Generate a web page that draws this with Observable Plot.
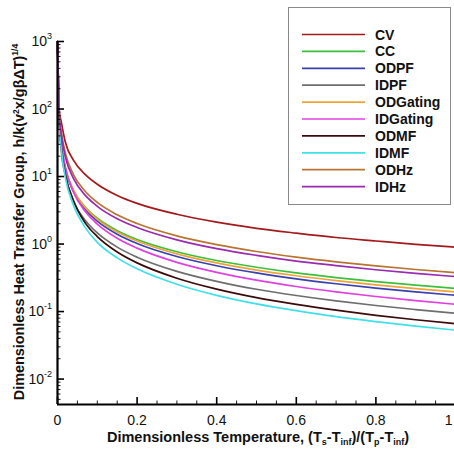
<!DOCTYPE html>
<html><head><meta charset="utf-8">
<script src="https://cdn.jsdelivr.net/npm/d3@7"></script>
<script src="https://cdn.jsdelivr.net/npm/@observablehq/plot@0.6"></script>
<style>
html,body{margin:0;padding:0;background:#fff;}
svg{font-family:"Liberation Sans",Arial,sans-serif;}
</style></head>
<body><div id="chart"></div>
<script>
// x positions (dimensionless temperature)
const temps = [0, 0.004, 0.01, 0.02, 0.04, 0.07, 0.1, 0.15, 0.2, 0.3, 0.4, 0.5, 0.6, 0.7, 0.8, 0.9, 1.0];
// series values
const CV       = [1000, 100, 62, 32, 17.5, 10.7, 7.7, 5.25, 4.0, 2.76, 2.11, 1.71, 1.45, 1.25, 1.11, 0.99, 0.90];
const CC       = [1000, 80, 27, 12.9, 6.25, 3.5, 2.41, 1.58, 1.17, 0.77, 0.57, 0.453, 0.374, 0.319, 0.277, 0.246, 0.22];
const ODPF     = [1000, 80, 27.6, 12.9, 6.0, 3.24, 2.19, 1.40, 1.02, 0.654, 0.477, 0.373, 0.305, 0.258, 0.222, 0.195, 0.174];
const IDPF     = [1000, 78, 23, 10.5, 4.33, 2.23, 1.46, 0.90, 0.638, 0.394, 0.280, 0.214, 0.173, 0.144, 0.123, 0.107, 0.094];
const ODGating = [1000, 80, 28, 13.3, 6.3, 3.45, 2.34, 1.51, 1.11, 0.716, 0.525, 0.412, 0.339, 0.287, 0.248, 0.218, 0.195];
const IDGating = [1000, 85, 31, 13.5, 5.9, 3.03, 1.98, 1.22, 0.87, 0.536, 0.381, 0.292, 0.235, 0.196, 0.167, 0.145, 0.128];
const ODMF     = [1000, 78, 26, 10.5, 4.4, 2.04, 1.29, 0.763, 0.526, 0.312, 0.215, 0.161, 0.128, 0.105, 0.088, 0.0756, 0.066];
const IDMF     = [1000, 76, 24, 9.5, 3.8, 1.75, 1.06, 0.624, 0.43, 0.254, 0.174, 0.130, 0.103, 0.084, 0.071, 0.061, 0.053];
const ODHz     = [1000, 88, 44, 22, 10.7, 6.0, 4.13, 2.71, 2.01, 1.32, 0.98, 0.775, 0.64, 0.546, 0.475, 0.42, 0.377];
const IDHz     = [1000, 86, 40, 19.3, 9.4, 5.25, 3.62, 2.37, 1.76, 1.155, 0.855, 0.68, 0.56, 0.48, 0.416, 0.368, 0.33];

const seriesNames = ["CV","CC","ODPF","IDPF","ODGating","IDGating","ODMF","IDMF","ODHz","IDHz"];
const seriesValues = [CV, CC, ODPF, IDPF, ODGating, IDGating, ODMF, IDMF, ODHz, IDHz];
const seriesColors = ["#a3191c","#3cc03c","#3a40b0","#6e6e6e","#f0a436","#e040e0","#3b0b0b","#40e0e8","#b87430","#9a2ab0"];

const xMajor = [0, 0.2, 0.4, 0.6, 0.8, 1];
const xLabels = ["0","0.2","0.4","0.6","0.8","1"];
const yMajorExp = [-2, -1, 0, 1, 2, 3];

const yMin = 0.0042, yMax = 1000;

const rows = [];
seriesNames.forEach((name, i) => {
  temps.forEach((t, j) => rows.push({series: name, t, v: seriesValues[i][j]}));
});

const xMinor = d3.range(0, 1.0001, 0.05).filter(v => Math.abs(v*5 - Math.round(v*5)) > 1e-6);
const yMajor = yMajorExp.map(e => Math.pow(10, e));
const yMinor = [];
for (let e = -3; e < 3; e++) for (let k = 2; k <= 9; k++) { const v = k * Math.pow(10, e); if (v >= yMin && v <= yMax) yMinor.push(v); }

const pxX = 1/398;           // one pixel in x data units
const pxYf = 1/67.6;         // one pixel in log10 decades

const labelIdx = xMajor.map((d, i) => i);

const chart = Plot.plot({
  width: 454, height: 450,
  marginLeft: 57, marginRight: -1, marginTop: 41, marginBottom: 46,
  x: {domain: [0, 1], axis: null},
  y: {type: "log", domain: [yMin, yMax], axis: null},
  color: {domain: seriesNames, range: seriesColors},
  marks: [
    Plot.line(rows, {x: "t", y: "v", z: "series", stroke: "series", strokeWidth: 1.7, curve: "monotone-x"}),
    // y ticks (inward)
    Plot.ruleY(yMajor, {x1: 0, x2: 7*pxX, stroke: "black", strokeWidth: 1.6}),
    Plot.ruleY(yMinor, {x1: 0, x2: 3.5*pxX, stroke: "black", strokeWidth: 0.9}),
    // x ticks (inward)
    Plot.ruleX(xMajor, {y1: yMin, y2: yMin*Math.pow(10, 7*pxYf), stroke: "black", strokeWidth: 1.6}),
    Plot.ruleX(xMinor, {y1: yMin, y2: yMin*Math.pow(10, 3.5*pxYf), stroke: "black", strokeWidth: 0.9}),
    // axis lines
    Plot.ruleX([0], {y1: yMin, y2: yMax, stroke: "black", strokeWidth: 2.2}),
    Plot.ruleY([yMin], {x1: 0, x2: 1, stroke: "black", strokeWidth: 2.2}),
    // x tick labels
    Plot.text(labelIdx.slice(0, 5), {x: i => xMajor[i], y: () => yMin, text: i => xLabels[i], dy: 16, fontSize: 14, fill: "#111", textAnchor: "middle"}),
    Plot.text(labelIdx.slice(5), {x: i => xMajor[i], y: () => yMin, text: i => xLabels[i], dy: 16, dx: -3, fontSize: 14, fill: "#111", textAnchor: "end"})
  ]
});

const svg = d3.select(chart);
const sy = chart.scale("y");

// y tick labels with superscripts
yMajorExp.forEach(e => {
  const t = svg.append("text")
    .attr("x", 52).attr("y", sy.apply(Math.pow(10, e)) + 5)
    .attr("text-anchor", "end").attr("font-size", 14).attr("fill", "#111");
  t.append("tspan").text("10");
  t.append("tspan").attr("font-size", 9).attr("dy", -7).text(String(e));
});

// axis titles
const xt = svg.append("text").attr("x", 258).attr("y", 442).attr("text-anchor", "middle")
  .attr("font-size", 14.5).attr("font-weight", "bold").attr("fill", "#111");
xt.append("tspan").text("Dimensionless Temperature, (T");
xt.append("tspan").attr("font-size", 9).attr("dy", 3).text("s");
xt.append("tspan").attr("dy", -3).text("-T");
xt.append("tspan").attr("font-size", 9).attr("dy", 3).text("inf");
xt.append("tspan").attr("dy", -3).text(")/(T");
xt.append("tspan").attr("font-size", 9).attr("dy", 3).text("p");
xt.append("tspan").attr("dy", -3).text("-T");
xt.append("tspan").attr("font-size", 9).attr("dy", 3).text("inf");
xt.append("tspan").attr("dy", -3).text(")");

const yt = svg.append("text").attr("transform", "translate(24,222) rotate(-90)").attr("text-anchor", "middle")
  .attr("font-size", 14.4).attr("font-weight", "bold").attr("fill", "#111");
yt.append("tspan").text("Dimensionless Heat Transfer Group, h/k(v");
yt.append("tspan").attr("font-size", 8.5).attr("dy", -5).text("2");
yt.append("tspan").attr("dy", 5).text("x/g\u03B2\u0394T)");
yt.append("tspan").attr("font-size", 8.5).attr("dy", -6).text("1/4");

// legend
const lg = svg.append("g").attr("text-anchor", "start");
lg.append("rect").attr("x", 288.5).attr("y", 7.5).attr("width", 162).attr("height", 197)
  .attr("fill", "white").attr("stroke", "#8a8a8a").attr("stroke-width", 1);
seriesNames.forEach((name, i) => {
  const y = 34.5 + i * 16.9;
  lg.append("line").attr("x1", 302).attr("x2", 365).attr("y1", y).attr("y2", y)
    .attr("stroke", seriesColors[i]).attr("stroke-width", 1.7);
  lg.append("text").attr("x", 375).attr("y", y + 5).attr("font-size", 14).attr("font-weight", "bold")
    .attr("text-anchor", "start").attr("fill", "#111").text(name);
});

document.getElementById("chart").appendChild(chart);
</script>
</body></html>
